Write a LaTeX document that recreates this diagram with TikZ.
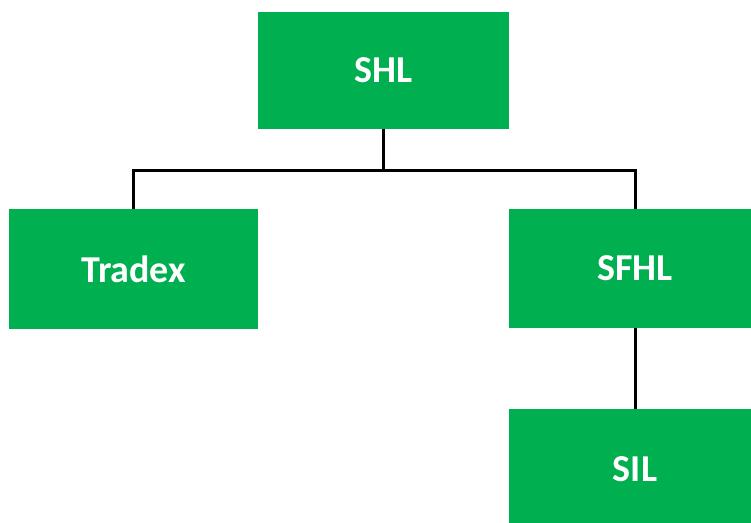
\documentclass[tikz,border=0pt]{standalone}
\usepackage{fontspec}
\setmainfont{Carlito}
\usetikzlibrary{positioning}

\definecolor{boxgreen}{HTML}{00B050}

\begin{document}
\begin{tikzpicture}[
  x=1pt, y=-1pt,
  unit/.style={rectangle, fill=boxgreen, text=white, font=\fontsize{38}{38}\selectfont\bfseries, inner sep=0pt},
  link/.style={draw=black, line width=3pt}
]
  \useasboundingbox (0,0) rectangle (751,522);
  \clip (0,0) rectangle (751,522);
  \fill[white] (0,0) rectangle (751,522);

  % companies
  \node (shl)    at (383.5,70.5) [unit, minimum width=251pt, minimum height=117pt] {SHL};
  \node (tradex) at (133.5,269)  [unit, minimum width=249pt, minimum height=120pt] {Tradex};
  \node (sfhl)   at (635,268.5)  [unit, minimum width=252pt, minimum height=119pt] {SFHL};
  \node (sil)    at (635,469)    [unit, minimum width=252pt, minimum height=120pt] {SIL};

  % ownership lines
  \coordinate (split) at (383.5,170);
  \draw[link] (shl) -- (split) -| (tradex);
  \draw[link] (split) -| (sfhl);
  \draw[link] (sfhl) -- (sil);
\end{tikzpicture}
\end{document}
